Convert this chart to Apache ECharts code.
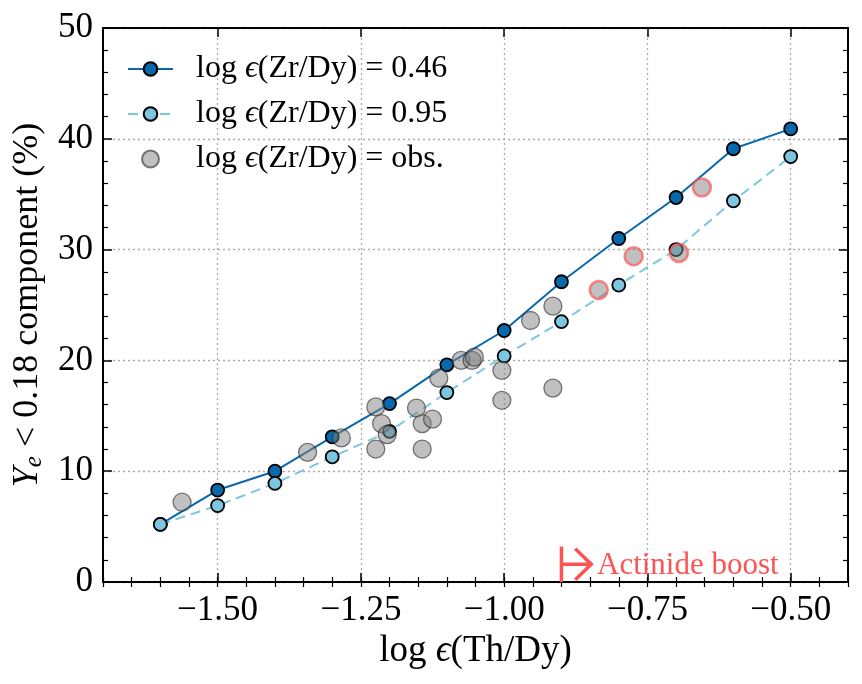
<!DOCTYPE html>
<html>
<head>
<meta charset="utf-8">
<script src="https://cdn.jsdelivr.net/npm/echarts@6.0.0/dist/echarts.min.js"></script>
<style>
  html, body { margin: 0; padding: 0; background: #fff; }
  #chart { width: 862px; height: 684px; }
</style>
</head>
<body>
<div id="chart"></div>
<script>
// model grid in log eps(Th/Dy)
const thDy = [-1.6, -1.5, -1.4, -1.3, -1.2, -1.1, -1.0, -0.9, -0.8, -0.7, -0.6, -0.5];
// Ye < 0.18 component (%) for the two Zr/Dy values
const yeZr046 = [5.2, 8.3, 10.0, 13.1, 16.1, 19.6, 22.7, 27.1, 31.0, 34.7, 39.1, 40.9];
const yeZr095 = [5.2, 6.9, 8.9, 11.3, 13.6, 17.1, 20.4, 23.5, 26.8, 30.0, 34.4, 38.4];

// observed stars
const obsX = [-1.562, -1.343, -1.284, -1.224, -1.214, -1.204, -1.224, -1.153, -1.143, -1.125,
              -1.143, -1.114, -1.075, -1.056, -1.052, -1.004, -1.004, -0.954, -0.915, -0.915];
const obsY = [7.2, 11.7, 13.0, 15.8, 14.3, 13.3, 12.0, 15.7, 14.3, 14.7,
              12.0, 18.4, 20.0, 20.0, 20.3, 19.1, 16.4, 23.6, 24.9, 17.5];
// actinide-boost stars (red edge)
const boostX = [-0.835, -0.774, -0.695, -0.655];
const boostY = [26.35, 29.4, 29.7, 35.6];

const xTicks = [-1.5, -1.25, -1.0, -0.75, -0.5];
const xLabels = ['−1.50', '−1.25', '−1.00', '−0.75', '−0.50'];
const boostStart = -0.9;

const names = ['log ϵ(Zr/Dy) = 0.46', 'log ϵ(Zr/Dy) = 0.95', 'log ϵ(Zr/Dy) = obs.'];

const FONT = '"Liberation Serif", "DejaVu Serif", serif';
const DARK = '#0868ac';
const LIGHT = '#7cc6e0';
const RED = '#ff5252';

const zip = (xs, ys) => xs.map((x, i) => [x, ys[i]]);

const chart = echarts.init(document.getElementById('chart'), null, { renderer: 'canvas' });

function xAxisMajor(pos) {
  return {
    type: 'value', position: pos, min: -1.7, max: -0.4,
    axisLine: { show: true, onZero: false, lineStyle: { color: '#000', width: 2 } },
    axisTick: { show: true, inside: true, length: 9, customValues: xTicks, lineStyle: { color: '#000', width: 1.5 } },
    axisLabel: pos === 'bottom' ? {
      show: true, customValues: xTicks, margin: 11,
      formatter: v => xLabels[xTicks.findIndex(t => Math.abs(t - v) < 1e-6)] || '',
      fontFamily: FONT, fontSize: 35, color: '#000'
    } : { show: false },
    splitLine: pos === 'bottom' ? { show: true, lineStyle: { color: '#aaa', width: 1.3, type: [2, 3] } } : { show: false },
  };
}
function xAxisMinor(pos) {
  return {
    type: 'value', position: pos, min: -1.7, max: -0.4, interval: 0.05,
    axisLine: { show: false },
    axisTick: { show: true, inside: true, length: 5, lineStyle: { color: '#000', width: 1.2 } },
    axisLabel: { show: false },
    splitLine: { show: false },
  };
}
function yAxis(pos) {
  return {
    type: 'value', position: pos, min: 0, max: 50, interval: 10,
    axisLine: { show: true, onZero: false, lineStyle: { color: '#000', width: 2 } },
    axisTick: { show: true, inside: true, length: 9, lineStyle: { color: '#000', width: 1.5 } },
    minorTick: { show: true, splitNumber: 5, length: 5, lineStyle: { color: '#000', width: 1.2 } },
    axisLabel: pos === 'left' ? { show: true, margin: 10, fontFamily: FONT, fontSize: 35, color: '#000' } : { show: false },
    splitLine: pos === 'left' ? { show: true, lineStyle: { color: '#aaa', width: 1.3, type: [2, 3] } } : { show: false },
  };
}

const xs = [xAxisMajor('bottom'), xAxisMinor('bottom'), xAxisMajor('top'), xAxisMinor('top')];
xs[0].name = '{t|log }{i|ϵ}{t|(Th/Dy)}';
xs[0].nameLocation = 'middle';
xs[0].nameGap = 51;
xs[0].nameTextStyle = {
  rich: {
    t: { fontFamily: FONT, fontSize: 37, color: '#000' },
    i: { fontFamily: FONT, fontSize: 37, fontStyle: 'italic', color: '#000' },
  }
};
const ys = [yAxis('left'), yAxis('right')];
ys[0].name = '{i|Y}{s|e}{t| < 0.18 component (%)}';
ys[0].nameLocation = 'middle';
ys[0].nameRotate = 90;
ys[0].nameGap = 54;
ys[0].nameTextStyle = {
  rich: {
    t: { fontFamily: FONT, fontSize: 36, color: '#000' },
    i: { fontFamily: FONT, fontSize: 36, fontStyle: 'italic', color: '#000' },
    s: { fontFamily: FONT, fontSize: 25, fontStyle: 'italic', color: '#000', padding: [15, 0, 0, 0] },
  }
};

const option = {
  animation: false,
  grid: { left: 103, right: 14, top: 28, bottom: 102, outerBoundsMode: 'none' },
  xAxis: xs,
  yAxis: ys,
  legend: {
    left: 122, top: 48, orient: 'vertical',
    itemWidth: 45, itemHeight: 17, itemGap: 13,
    data: names,
    formatter: name => '{t|log }{i|ϵ}{t|' + name.slice(5) + '}',
    textStyle: {
      padding: [0, 0, 0, 18],
      rich: {
        t: { fontFamily: FONT, fontSize: 32, color: '#000' },
        i: { fontFamily: FONT, fontSize: 32, fontStyle: 'italic', color: '#000' },
      }
    },
  },
  series: [
    {
      name: names[0], type: 'line', data: zip(thDy, yeZr046),
      symbol: 'circle', symbolSize: 13,
      lineStyle: { color: DARK, width: 2 },
      itemStyle: { color: DARK, borderColor: '#000', borderWidth: 1.8 },
      z: 3,
    },
    {
      name: names[1], type: 'line', data: zip(thDy, yeZr095),
      symbol: 'circle', symbolSize: 13,
      lineStyle: { color: LIGHT, width: 2, type: [10, 6] },
      itemStyle: { color: LIGHT, borderColor: '#000', borderWidth: 1.8 },
      z: 4,
    },
    {
      name: names[2], type: 'scatter', data: zip(obsX, obsY),
      symbolSize: 18,
      itemStyle: { color: 'rgba(128,128,128,0.62)', borderColor: 'rgba(40,40,40,0.75)', borderWidth: 1.3 },
      z: 5,
    },
    {
      name: 'boost', type: 'scatter', data: zip(boostX, boostY),
      symbolSize: 18,
      itemStyle: { color: 'rgba(128,128,128,0.62)', borderColor: 'rgba(255,82,82,0.85)', borderWidth: 2.6 },
      z: 5,
    },
    {
      name: 'annotation', type: 'custom', data: [[boostStart, 0]], silent: true, clip: false, z: 6,
      renderItem: (params, api) => {
        const x0 = api.value(0);
        const bot = api.coord([x0, 0]);
        const top = api.coord([x0, 3.2]);
        const mid = api.coord([x0, 1.6]);
        const tip = api.coord([x0 + 0.052, 1.6]);
        const armA = api.coord([x0 + 0.024, 3.0]);
        const armB = api.coord([x0 + 0.024, 0.2]);
        const txt = api.coord([x0 + 0.062, 1.5]);
        const st = { stroke: RED, lineWidth: 3.5, fill: null };
        return {
          type: 'group',
          children: [
            { type: 'polyline', shape: { points: [bot, top] }, style: st },
            { type: 'polyline', shape: { points: [mid, tip] }, style: st },
            { type: 'polyline', shape: { points: [armA, tip, armB] }, style: st },
            { type: 'text', x: txt[0], y: txt[1], style: {
                text: 'Actinide boost', fill: RED, font: '31px ' + FONT,
                textAlign: 'left', textVerticalAlign: 'middle' } },
          ]
        };
      }
    }
  ]
};

chart.setOption(option);
</script>
</body>
</html>
